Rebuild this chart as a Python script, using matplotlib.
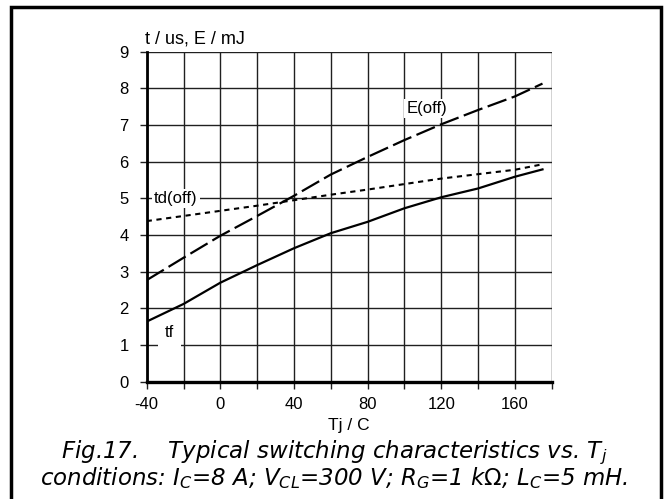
import matplotlib
matplotlib.use("Agg")
import matplotlib.pyplot as plt
from matplotlib.patches import Rectangle

plt.rcParams['font.family'] = ['Liberation Sans', 'DejaVu Sans']
plt.rcParams['mathtext.fontset'] = 'custom'
plt.rcParams['mathtext.rm'] = 'DejaVu Sans'
plt.rcParams['mathtext.it'] = 'DejaVu Sans:italic'

# Data
tj = [-40, -20, 0, 20, 40, 60, 80, 100, 120, 140, 160, 175]
e_off = [2.77, 3.38, 3.98, 4.52, 5.07, 5.65, 6.13, 6.59, 7.02, 7.41, 7.78, 8.13]
td_off = [4.38, 4.52, 4.66, 4.80, 4.95, 5.10, 5.24, 5.39, 5.54, 5.66, 5.78, 5.93]
tf = [1.64, 2.12, 2.70, 3.18, 3.64, 4.05, 4.36, 4.73, 5.03, 5.27, 5.59, 5.79]

xticks_minor = list(range(-40, 181, 20))
xticks_major = [-40, 0, 40, 80, 120, 160]
yticks = list(range(0, 10))

fig = plt.figure(figsize=(6.65, 4.99), dpi=100)
ax = fig.add_axes([146.7 / 665, 1 - 381.7 / 499, 405 / 665, 330 / 499])

ax.set_xlim(-40, 180)
ax.set_ylim(0, 9)

for x in xticks_minor:
    ax.axvline(x, color='#202020', lw=1.0, zorder=1)
for y in yticks:
    ax.axhline(y, color='#202020', lw=1.0, zorder=1)

ax.plot(tj, e_off, color='black', lw=1.6, dashes=(9, 2.5), zorder=3)
ax.plot(tj, td_off, color='black', lw=1.5, dashes=(2.5, 2.2), zorder=3)
ax.plot(tj, tf, color='black', lw=1.6, zorder=3)

bbox = dict(facecolor='white', edgecolor='none', pad=1.5)
ax.text(101, 7.46, 'E(off)', fontsize=12, ha='left', va='center', bbox=bbox, zorder=4)
ax.text(-36, 5.0, 'td(off)', fontsize=12, ha='left', va='center', bbox=bbox, zorder=4)
ax.text(-30, 1.33, 'tf', fontsize=12, ha='left', va='center',
        bbox=dict(facecolor='white', edgecolor='none', pad=5), zorder=4)

ax.set_xticks(xticks_minor)
ax.set_xticklabels([str(x) if x in xticks_major else '' for x in xticks_minor])
ax.set_yticks(yticks)
ax.tick_params(axis='both', labelsize=12, length=5, width=1.0, color='#202020', direction='out')
ax.tick_params(axis='x', pad=6)
ax.tick_params(axis='y', pad=8)

ax.spines['top'].set_visible(False)
ax.spines['right'].set_visible(False)
ax.spines['bottom'].set_linewidth(2.4)
ax.spines['left'].set_linewidth(2.0)

ax.set_xlabel('Tj / C', fontsize=12.5, labelpad=4)
ax.text(-0.005, 1.026, 't / us, E / mJ', transform=ax.transAxes, fontsize=13,
        ha='left', va='baseline')

caption = ('Fig.17.    Typical switching characteristics vs. T$_{j}$\n'
           'conditions: I$_{C}$=8 A; V$_{CL}$=300 V; R$_{G}$=1 k$\\Omega$; L$_{C}$=5 mH.')
fig.text(334 / 665, 1 - 439 / 499, caption, fontsize=16.5, style='italic',
         family=['DejaVu Sans'], ha='center', va='top', multialignment='center',
         linespacing=0.9)

fig.patches.append(Rectangle((10.5 / 665, -0.05), (660.5 - 10.5) / 665, 1.05 - 7 / 499,
                             transform=fig.transFigure, fill=False, lw=2.5,
                             edgecolor='black'))

fig.savefig('out.png', dpi=100)
